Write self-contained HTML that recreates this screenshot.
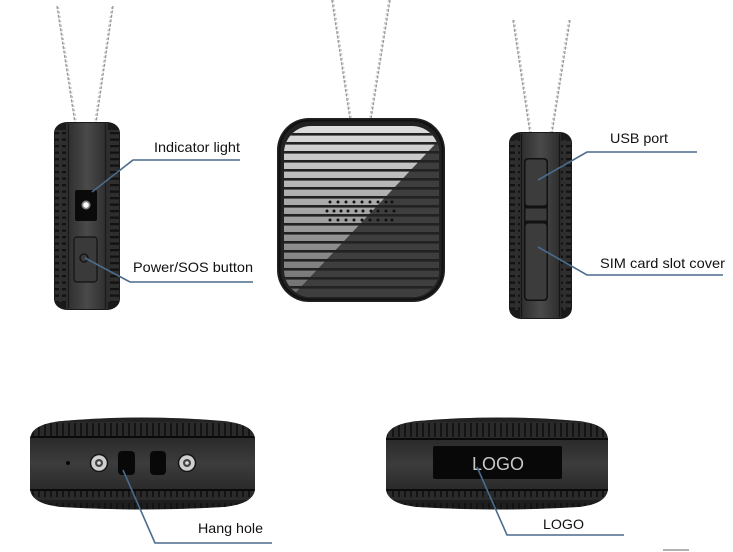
<!DOCTYPE html>
<html><head><meta charset="utf-8"><style>
html,body{margin:0;padding:0;background:#fff;}
svg{display:block;}
text{font-family:"Liberation Sans",Arial,sans-serif;fill:#111;}
</style></head><body>
<svg width="733" height="552" viewBox="0 0 733 552" xmlns="http://www.w3.org/2000/svg">
<defs>
  <pattern id="notchH" x="0" y="0" width="12" height="6.5" patternUnits="userSpaceOnUse">
    <rect width="12" height="6.5" fill="#2e2e2e"/>
    <rect x="2" y="2" width="9" height="2.3" fill="#121212"/>
  </pattern>
  <pattern id="notchV" x="0" y="0" width="6" height="20" patternUnits="userSpaceOnUse">
    <rect width="6" height="20" fill="#2a2a2a"/>
    <rect x="2" y="3" width="2" height="14" fill="#141414"/>
  </pattern>
  <linearGradient id="faceV" x1="0" y1="0" x2="1" y2="0">
    <stop offset="0" stop-color="#2c2c2c"/>
    <stop offset="0.5" stop-color="#4a4a4a"/>
    <stop offset="1" stop-color="#2c2c2c"/>
  </linearGradient>
  <linearGradient id="faceH" x1="0" y1="0" x2="0" y2="1">
    <stop offset="0" stop-color="#2a2a2a"/>
    <stop offset="0.5" stop-color="#3c3c3c"/>
    <stop offset="1" stop-color="#2a2a2a"/>
  </linearGradient>
  <linearGradient id="lightG" x1="0" y1="0" x2="0" y2="1">
    <stop offset="0" stop-color="#dedede"/>
    <stop offset="0.4" stop-color="#b0b0b0"/>
    <stop offset="1" stop-color="#6c6c6c"/>
  </linearGradient>
  <clipPath id="innerClip"><rect x="284" y="126" width="155" height="171" rx="27"/></clipPath>
  <clipPath id="bl"><path d="M30,440 Q30,424 62,421 Q142,414 223,421 Q255,424 255,440 L255,488 Q255,504 223,507 Q142,512 62,507 Q30,504 30,488 Z"/></clipPath>
  <clipPath id="br"><path d="M386,440 Q386,424 418,421 Q497,414 578,421 Q608,424 608,440 L608,488 Q608,504 578,507 Q497,512 418,507 Q386,504 386,488 Z"/></clipPath>
</defs>

<!-- ===== chains ===== -->
<g fill="none" stroke="#999" stroke-width="1.4" stroke-dasharray="3 1.5">
  <line x1="57" y1="6" x2="75" y2="123"/>
  <line x1="113" y1="6" x2="96" y2="123"/>
  <line x1="332" y1="0" x2="350" y2="119"/>
  <line x1="390" y1="0" x2="371" y2="119"/>
  <line x1="513" y1="20" x2="530" y2="133"/>
  <line x1="570" y1="20" x2="552" y2="133"/>
</g>
<g fill="none" stroke="#bdbdbd" stroke-width="1" stroke-dasharray="2 2.5">
  <line x1="58.5" y1="7" x2="76.5" y2="123"/>
  <line x1="111.5" y1="7" x2="94.5" y2="123"/>
  <line x1="333.5" y1="0" x2="351.5" y2="119"/>
  <line x1="388.5" y1="0" x2="369.5" y2="119"/>
  <line x1="514.5" y1="20" x2="531.5" y2="133"/>
  <line x1="568.5" y1="20" x2="550.5" y2="133"/>
</g>

<!-- ===== left side device ===== -->
<rect x="54" y="122" width="66" height="188" rx="13" ry="11" fill="#1a1a1a"/>
<rect x="55" y="130" width="11" height="172" fill="url(#notchH)"/>
<rect x="108" y="130" width="11" height="172" fill="url(#notchH)"/>
<rect x="66" y="123" width="42" height="186" fill="url(#faceV)"/>
<line x1="68.5" y1="124" x2="68.5" y2="308" stroke="#1a1a1a" stroke-width="1.2"/>
<line x1="105.5" y1="124" x2="105.5" y2="308" stroke="#1a1a1a" stroke-width="1.2"/>
<rect x="75" y="190" width="22" height="31" rx="2" fill="#0a0a0a"/>
<circle cx="86" cy="205" r="4.5" fill="#fff" opacity="0.5"/>
<circle cx="86" cy="205" r="2.8" fill="#fff"/>
<rect x="74" y="237" width="23" height="45" rx="3" fill="#3a3a3a" stroke="#111" stroke-width="1.2"/>
<circle cx="84" cy="258" r="4" fill="none" stroke="#111" stroke-width="1.3"/>

<!-- ===== middle front device ===== -->
<rect x="277" y="118" width="168" height="184" rx="32" fill="#222"/>
<g clip-path="url(#innerClip)">
  <rect x="284" y="126" width="155" height="171" fill="url(#lightG)"/>
  <polygon points="284,305 439,140 445,140 445,305" fill="#3e3e3e"/>
  <g fill="#222">
    <rect x="284" y="133" width="155" height="2.6"/>
    <rect x="284" y="142" width="155" height="2.6"/>
    <rect x="284" y="151" width="155" height="2.6"/>
    <rect x="284" y="160" width="155" height="2.6"/>
    <rect x="284" y="169" width="155" height="2.6"/>
    <rect x="284" y="178" width="155" height="2.6"/>
    <rect x="284" y="187" width="155" height="2.6"/>
    <rect x="284" y="196" width="155" height="2.6"/>
    <rect x="284" y="205" width="155" height="2.6"/>
    <rect x="284" y="214" width="155" height="2.6"/>
    <rect x="284" y="223" width="155" height="2.6"/>
    <rect x="284" y="232" width="155" height="2.6"/>
    <rect x="284" y="241" width="155" height="2.6"/>
    <rect x="284" y="250" width="155" height="2.6"/>
    <rect x="284" y="259" width="155" height="2.6"/>
    <rect x="284" y="268" width="155" height="2.6"/>
    <rect x="284" y="277" width="155" height="2.6"/>
    <rect x="284" y="286" width="155" height="2.6"/>
  </g>
</g>
<rect x="279.5" y="120.5" width="163" height="179" rx="30" fill="none" stroke="#111" stroke-width="2"/>
<g fill="#111">
  <circle cx="330" cy="202" r="1.5"/><circle cx="338" cy="202" r="1.5"/><circle cx="346" cy="202" r="1.5"/><circle cx="354" cy="202" r="1.5"/><circle cx="362" cy="202" r="1.5"/><circle cx="370" cy="202" r="1.5"/><circle cx="378" cy="202" r="1.5"/><circle cx="386" cy="202" r="1.5"/><circle cx="392" cy="202" r="1.5"/>
  <circle cx="327" cy="211" r="1.5"/><circle cx="334" cy="211" r="1.5"/><circle cx="341" cy="211" r="1.5"/><circle cx="348" cy="211" r="1.5"/><circle cx="356" cy="211" r="1.5"/><circle cx="363" cy="211" r="1.5"/><circle cx="371" cy="211" r="1.5"/><circle cx="378" cy="211" r="1.5"/><circle cx="386" cy="211" r="1.5"/><circle cx="394" cy="211" r="1.5"/>
  <circle cx="330" cy="220" r="1.5"/><circle cx="338" cy="220" r="1.5"/><circle cx="346" cy="220" r="1.5"/><circle cx="354" cy="220" r="1.5"/><circle cx="362" cy="220" r="1.5"/><circle cx="370" cy="220" r="1.5"/><circle cx="378" cy="220" r="1.5"/><circle cx="386" cy="220" r="1.5"/><circle cx="392" cy="220" r="1.5"/>
</g>

<!-- ===== right side device ===== -->
<rect x="509" y="132" width="63" height="187" rx="12" ry="11" fill="#1a1a1a"/>
<rect x="510" y="140" width="11" height="170" fill="url(#notchH)"/>
<rect x="560" y="140" width="11" height="170" fill="url(#notchH)"/>
<rect x="520" y="133" width="41" height="185" fill="url(#faceV)"/>
<line x1="521.5" y1="134" x2="521.5" y2="317" stroke="#151515" stroke-width="1.2"/>
<line x1="559.5" y1="134" x2="559.5" y2="317" stroke="#151515" stroke-width="1.2"/>
<rect x="524" y="158" width="24" height="143" rx="4" fill="#111"/>
<rect x="525.5" y="159.5" width="21" height="46" rx="3" fill="#3c3c3c"/>
<rect x="525.5" y="208.5" width="21" height="12" fill="#3c3c3c"/>
<rect x="525.5" y="223.5" width="21" height="76" rx="3" fill="#3c3c3c"/>

<!-- ===== bottom left device ===== -->
<g clip-path="url(#bl)">
  <rect x="28" y="410" width="230" height="105" fill="url(#notchV)"/>
  <rect x="28" y="410" width="230" height="12" fill="#1a1a1a" opacity="0.5"/>
  <rect x="28" y="437" width="230" height="53" fill="url(#faceH)"/>
  <rect x="28" y="436" width="230" height="2" fill="#0a0a0a"/>
  <rect x="28" y="489" width="230" height="2" fill="#0a0a0a"/>
  <rect x="28" y="500" width="230" height="15" fill="#111" opacity="0.5"/>
</g>
<circle cx="68" cy="463" r="2" fill="#080808"/>
<circle cx="99" cy="463" r="8.5" fill="#cfcfcf" stroke="#151515" stroke-width="1.5"/>
<circle cx="99" cy="463" r="4" fill="#444"/>
<circle cx="99" cy="463" r="1.8" fill="#ddd"/>
<circle cx="187" cy="463" r="8.5" fill="#cfcfcf" stroke="#151515" stroke-width="1.5"/>
<circle cx="187" cy="463" r="4" fill="#444"/>
<circle cx="187" cy="463" r="1.8" fill="#ddd"/>
<rect x="118" y="451" width="17" height="24" rx="4" fill="#080808"/>
<rect x="150" y="451" width="16" height="24" rx="4" fill="#080808"/>

<!-- ===== bottom right device ===== -->
<g clip-path="url(#br)">
  <rect x="384" y="410" width="228" height="105" fill="url(#notchV)"/>
  <rect x="384" y="410" width="228" height="12" fill="#1a1a1a" opacity="0.5"/>
  <rect x="384" y="439" width="228" height="51" fill="url(#faceH)"/>
  <rect x="384" y="438" width="228" height="2" fill="#0a0a0a"/>
  <rect x="384" y="489" width="228" height="2" fill="#0a0a0a"/>
  <rect x="384" y="500" width="228" height="15" fill="#111" opacity="0.5"/>
</g>
<rect x="433" y="446" width="129" height="33" rx="2" fill="#080808"/>
<text x="472" y="470" font-size="18" fill="#c8c8c8" style="fill:#c8c8c8" textLength="52" lengthAdjust="spacingAndGlyphs">LOGO</text>

<!-- ===== leader lines ===== -->
<g fill="none" stroke="#4a6c8c" stroke-width="1.6">
  <polyline points="92,192 133,160 240,160"/>
  <polyline points="85,258 130,282 253,282"/>
  <polyline points="538,180 587,152 697,152"/>
  <polyline points="538,247 587,275 723,275"/>
  <polyline points="123,470 155,543 272,543"/>
  <polyline points="477,467 507,535 624,535"/>
</g>

<!-- ===== labels ===== -->
<text x="154" y="152" font-size="14" textLength="86" lengthAdjust="spacingAndGlyphs">Indicator light</text>
<text x="133" y="272" font-size="14" textLength="120" lengthAdjust="spacingAndGlyphs">Power/SOS button</text>
<text x="610" y="143" font-size="14" textLength="58" lengthAdjust="spacingAndGlyphs">USB port</text>
<text x="600" y="268" font-size="14" textLength="125" lengthAdjust="spacingAndGlyphs">SIM card slot cover</text>
<text x="198" y="533" font-size="14" textLength="65" lengthAdjust="spacingAndGlyphs">Hang hole</text>
<text x="543" y="529" font-size="14" textLength="41" lengthAdjust="spacingAndGlyphs">LOGO</text>

<!-- small mark bottom-right -->
<line x1="663" y1="550" x2="689" y2="550" stroke="#999" stroke-width="1.5"/>
</svg>
</body></html>
